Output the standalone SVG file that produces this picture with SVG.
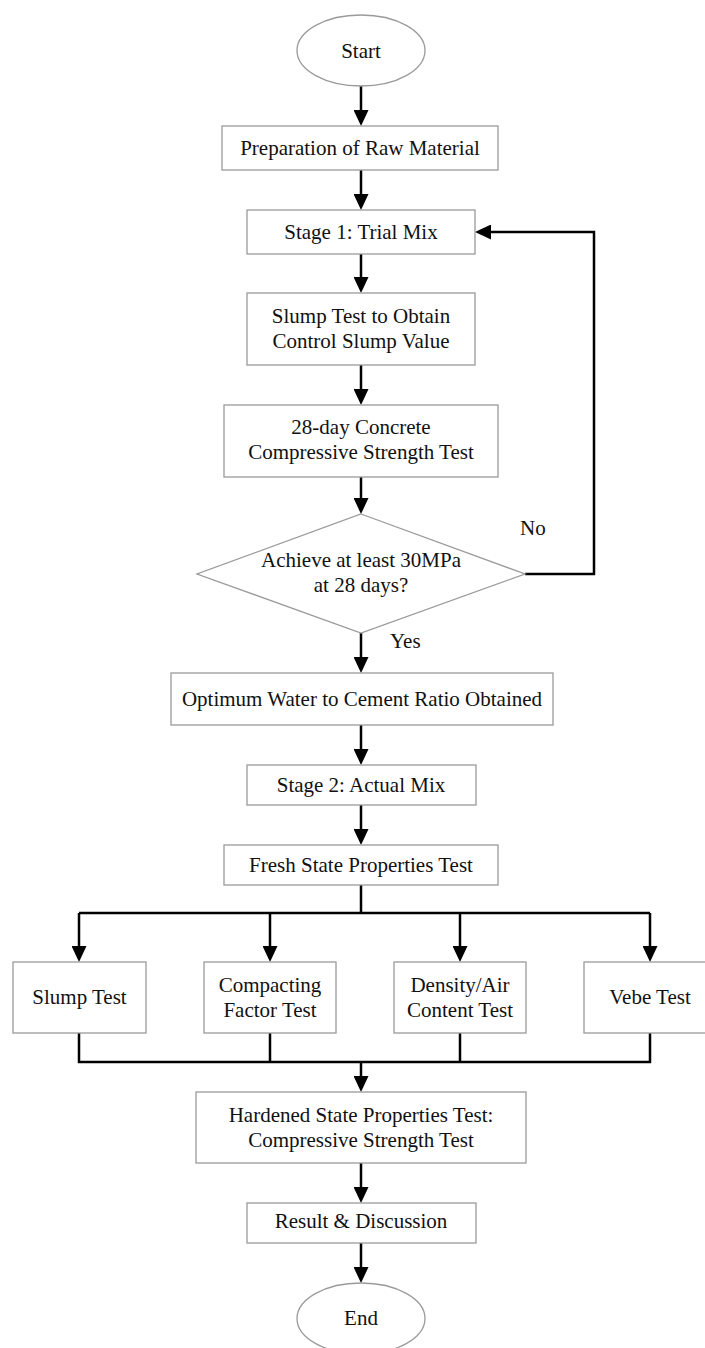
<svg xmlns="http://www.w3.org/2000/svg" width="705" height="1348" viewBox="0 0 705 1348">
<style>
.box{fill:#fff;stroke:#9a9a9a;stroke-width:1.3}
.t{font-family:"Liberation Serif","Times New Roman",serif;font-size:21px;fill:#111;text-anchor:middle}
.tl{font-family:"Liberation Serif","Times New Roman",serif;font-size:21px;fill:#111}
.c{fill:none;stroke:#000;stroke-width:2.5}
</style>
<defs>
<marker id="ah" markerUnits="userSpaceOnUse" markerWidth="16" markerHeight="15" refX="12" refY="7.5" orient="auto">
<path d="M0,0 L16,7.5 L0,15 z" fill="#000"/>
</marker>
</defs>
<rect width="705" height="1348" fill="#fff"/>
<g id="connectors">
<path class="c" d="M361,86 V122" marker-end="url(#ah)"/>
<path class="c" d="M361,170 V206" marker-end="url(#ah)"/>
<path class="c" d="M361,254 V289" marker-end="url(#ah)"/>
<path class="c" d="M361,365 V401" marker-end="url(#ah)"/>
<path class="c" d="M361,477 V510" marker-end="url(#ah)"/>
<path class="c" d="M525,574 H594 V232 H479" marker-end="url(#ah)"/>
<path class="c" d="M361,633 V669" marker-end="url(#ah)"/>
<path class="c" d="M361,725 V761" marker-end="url(#ah)"/>
<path class="c" d="M361,805 V841" marker-end="url(#ah)"/>
<path class="c" d="M361,885 V913"/>
<path class="c" d="M79,913 H650"/>
<path class="c" d="M79,913 V958" marker-end="url(#ah)"/>
<path class="c" d="M270,913 V958" marker-end="url(#ah)"/>
<path class="c" d="M460,913 V958" marker-end="url(#ah)"/>
<path class="c" d="M650,913 V958" marker-end="url(#ah)"/>
<path class="c" d="M79,1033 V1062 H650 V1033"/>
<path class="c" d="M270,1033 V1062"/>
<path class="c" d="M460,1033 V1062"/>
<path class="c" d="M361,1062 V1088" marker-end="url(#ah)"/>
<path class="c" d="M361,1163 V1199" marker-end="url(#ah)"/>
<path class="c" d="M361,1243 V1279" marker-end="url(#ah)"/>
<text class="tl" x="520" y="535">No</text>
<text class="tl" x="390" y="648">Yes</text>
</g>
<g id="start">
<ellipse class="box" cx="361" cy="50.5" rx="64" ry="35.5"/>
<text class="t" x="361" y="58">Start</text>
</g>
<g id="prep">
<rect class="box" x="222" y="126" width="276" height="44"/>
<text class="t" x="360" y="155">Preparation of Raw Material</text>
</g>
<g id="stage1">
<rect class="box" x="247" y="210" width="228" height="44"/>
<text class="t" x="361" y="239">Stage 1: Trial Mix</text>
</g>
<g id="slump-control">
<rect class="box" x="247" y="293" width="228" height="72"/>
<text class="t" x="361" y="323">Slump Test to Obtain</text>
<text class="t" x="361" y="348">Control Slump Value</text>
</g>
<g id="compressive28">
<rect class="box" x="224" y="405" width="274" height="72"/>
<text class="t" x="361" y="434">28-day Concrete</text>
<text class="t" x="361" y="459">Compressive Strength Test</text>
</g>
<g id="decision">
<polygon class="box" points="361,514 525,574 361,633 197,574"/>
<text class="t" x="361" y="567">Achieve at least 30MPa</text>
<text class="t" x="361" y="592">at 28 days?</text>
</g>
<g id="optimum">
<rect class="box" x="171" y="673" width="382" height="52"/>
<text class="t" x="362" y="706">Optimum Water to Cement Ratio Obtained</text>
</g>
<g id="stage2">
<rect class="box" x="247" y="765" width="229" height="40"/>
<text class="t" x="361" y="792">Stage 2: Actual Mix</text>
</g>
<g id="fresh">
<rect class="box" x="224" y="845" width="274" height="40"/>
<text class="t" x="361" y="872">Fresh State Properties Test</text>
</g>
<g id="slump">
<rect class="box" x="13" y="962" width="133" height="71"/>
<text class="t" x="79.5" y="1004">Slump Test</text>
</g>
<g id="compacting">
<rect class="box" x="204" y="962" width="132" height="71"/>
<text class="t" x="270" y="992">Compacting</text>
<text class="t" x="270" y="1017">Factor Test</text>
</g>
<g id="density">
<rect class="box" x="394" y="962" width="132" height="71"/>
<text class="t" x="460" y="992">Density/Air</text>
<text class="t" x="460" y="1017">Content Test</text>
</g>
<g id="vebe">
<rect class="box" x="584" y="962" width="132" height="71"/>
<text class="t" x="650" y="1004">Vebe Test</text>
</g>
<g id="hardened">
<rect class="box" x="196" y="1092" width="330" height="71"/>
<text class="t" x="361" y="1122">Hardened State Properties Test:</text>
<text class="t" x="361" y="1147">Compressive Strength Test</text>
</g>
<g id="result">
<rect class="box" x="247" y="1203" width="229" height="40"/>
<text class="t" x="361" y="1228">Result &amp; Discussion</text>
</g>
<g id="end">
<ellipse class="box" cx="361" cy="1318.5" rx="64" ry="35.5"/>
<text class="t" x="361" y="1325">End</text>
</g>
</svg>
